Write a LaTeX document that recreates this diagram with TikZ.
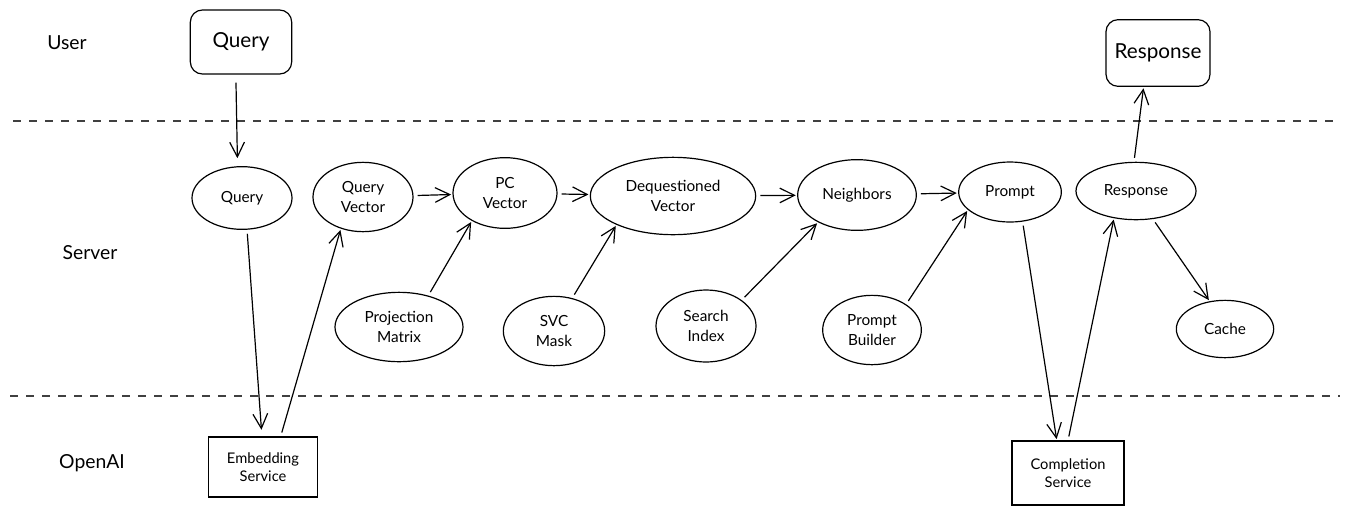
\documentclass[tikz,border=0pt]{standalone}
\usepackage{fontspec}
\setmainfont{Lato}
\usetikzlibrary{shapes.geometric,arrows.meta}

\begin{document}
\begin{tikzpicture}[x=0.75pt,y=-0.75pt,line width=0.9pt,
  blob/.style={draw,ellipse,inner sep=0pt,align=center,font=\fontsize{11.5}{15}\selectfont},
  ubox/.style={draw,rounded corners=9pt,inner sep=0pt,font=\fontsize{15.5}{17}\selectfont},
  svcbox/.style={draw,inner sep=0pt,align=center,font=\fontsize{11}{14}\selectfont},
  lane/.style={font=\fontsize{14.5}{16}\selectfont},
  sep/.style={draw=black!75,dash pattern=on 6pt off 6pt},
  arr/.style={-{Straight Barb[length=11pt,width=11pt]},shorten <=3pt,shorten >=1pt}]
  \useasboundingbox (0,0) rectangle (1351,515);

  % lanes
  \node[lane] (lnuser) at (67,43) {User};
  \node[lane] (lnserver) at (90,253) {Server};
  \node[lane] (lnopenai) at (92,463) {OpenAI};
  \draw[sep] (13,121) -- (1340,121);
  \draw[sep] (10,396) -- (1340,396);

  % user side
  \node[ubox,minimum width=76pt,minimum height=48pt] (uquery) at (241,42) {Query};
  \node[ubox,minimum width=78pt,minimum height=50pt] (uresp) at (1158,53) {Response};

  % server side
  \node[blob,minimum width=75pt,minimum height=47pt] (query) at (242,198) {Query};
  \node[blob,minimum width=75pt,minimum height=52pt] (qvec) at (363,197) {Query\\Vector};
  \node[blob,minimum width=78pt,minimum height=53pt] (pcvec) at (505,193) {PC\\Vector};
  \node[blob,minimum width=124pt,minimum height=58pt] (dqvec) at (673,196) {Dequestioned\\Vector};
  \node[blob,minimum width=89pt,minimum height=53pt] (nbrs) at (857,195) {Neighbors};
  \node[blob,minimum width=77pt,minimum height=45pt] (prompt) at (1010,192) {Prompt};
  \node[blob,minimum width=90pt,minimum height=43pt] (resp) at (1136,191) {Response};
  \node[blob,minimum width=96pt,minimum height=52pt] (pmat) at (399,327) {Projection\\Matrix};
  \node[blob,minimum width=76pt,minimum height=52pt] (svcm) at (554,331) {SVC\\Mask};
  \node[blob,minimum width=75pt,minimum height=54pt] (sidx) at (706,326) {Search\\Index};
  \node[blob,minimum width=74pt,minimum height=52pt] (pbld) at (872,330) {Prompt\\Builder};
  \node[blob,minimum width=73pt,minimum height=43pt] (cache) at (1225,329) {Cache};

  % openai side
  \node[svcbox,minimum width=82pt,minimum height=45pt] (embsvc) at (263,467) {Embedding\\Service};
  \node[svcbox,minimum width=84pt,minimum height=48pt] (cmpsvc) at (1068,473) {Completion\\Service};

  % flow
  \draw[arr,shorten <=6pt,shorten >=6pt] (uquery.261) -- (query.98);
  \draw[arr,shorten >=5pt] (query.279) -- (embsvc.92);
  \draw[arr] (embsvc.60) -- (qvec.235);
  \draw[arr] (qvec) -- (pcvec);
  \draw[arr] (pcvec) -- (dqvec);
  \draw[arr] (dqvec) -- (nbrs);
  \draw[arr] (nbrs) -- (prompt);
  \draw[arr] (pmat.47) -- (pcvec.220);
  \draw[arr] (svcm.61) -- (dqvec.207);
  \draw[arr] (sidx.36) -- (nbrs.215);
  \draw[arr] (pbld.37) -- (prompt.203);
  \draw[arr] (prompt.293) -- (cmpsvc.109);
  \draw[arr] (cmpsvc.90) -- (resp.231);
  \draw[arr] (resp.94) -- (uresp.247);
  \draw[arr] (resp.301) -- (cache.119);
\end{tikzpicture}
\end{document}
